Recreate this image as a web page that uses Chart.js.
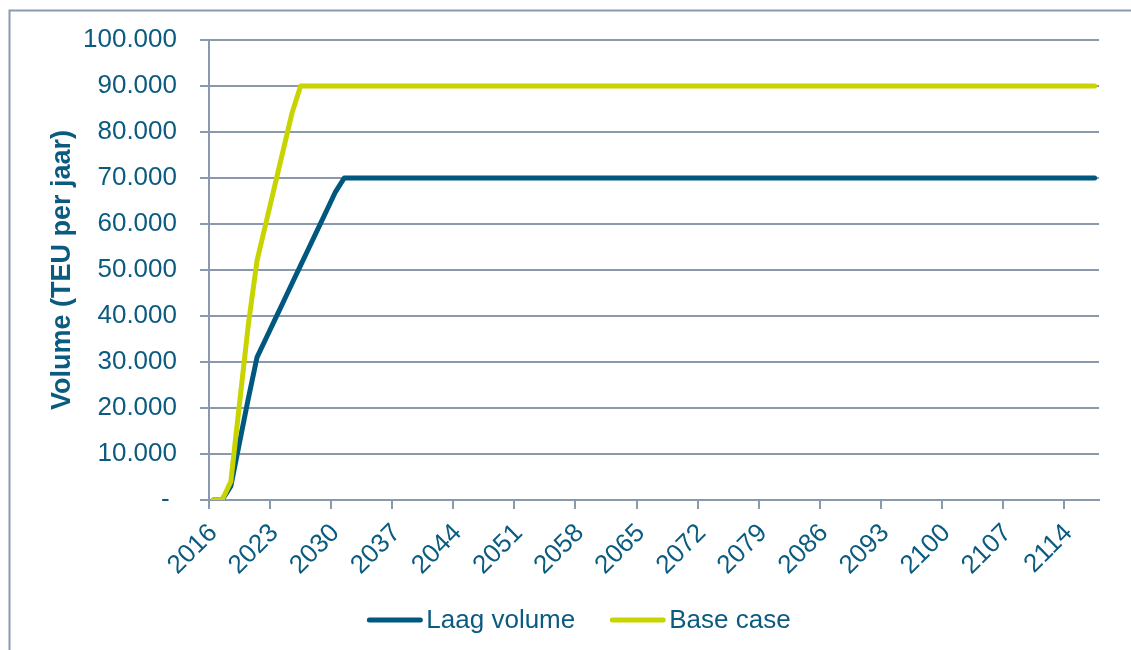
<!DOCTYPE html>
<html>
<head>
<meta charset="utf-8">
<title>Volume (TEU per jaar)</title>
<script src="https://cdn.jsdelivr.net/npm/chart.js@4/dist/chart.umd.min.js"></script>
<style>
  html, body { margin: 0; padding: 0; background: #ffffff; overflow: hidden; }
  #wrap { width: 1131px; height: 650px; }
</style>
</head>
<body>
<div id="wrap"><canvas id="chart" width="1131" height="650"></canvas></div>
<script>
// Years 2016 .. 2117, one category per year
const firstYear = 2016;
const yearCount = 102;
const years = [];
for (let i = 0; i < yearCount; i++) years.push(String(firstYear + i));

// Only every seventh year is labelled on the axis
const labelEvery = 7;

// Laag volume (TEU per jaar), 2016 .. 2117
const laagVolume = [
  0, 0, 3000, 12500, 22000, 31000, 35000, 39000, 43000, 47000,
  51000, 55000, 59000, 63000, 67000, 70000, 70000, 70000, 70000, 70000,
  70000, 70000, 70000, 70000, 70000, 70000, 70000, 70000, 70000, 70000,
  70000, 70000, 70000, 70000, 70000, 70000, 70000, 70000, 70000, 70000,
  70000, 70000, 70000, 70000, 70000, 70000, 70000, 70000, 70000, 70000,
  70000, 70000, 70000, 70000, 70000, 70000, 70000, 70000, 70000, 70000,
  70000, 70000, 70000, 70000, 70000, 70000, 70000, 70000, 70000, 70000,
  70000, 70000, 70000, 70000, 70000, 70000, 70000, 70000, 70000, 70000,
  70000, 70000, 70000, 70000, 70000, 70000, 70000, 70000, 70000, 70000,
  70000, 70000, 70000, 70000, 70000, 70000, 70000, 70000, 70000, 70000,
  70000, 70000
];

// Base case (TEU per jaar), 2016 .. 2117
const baseCase = [
  0, 0, 4000, 21000, 38000, 52000, 60000, 68000, 76000, 84000,
  90000, 90000, 90000, 90000, 90000, 90000, 90000, 90000, 90000, 90000,
  90000, 90000, 90000, 90000, 90000, 90000, 90000, 90000, 90000, 90000,
  90000, 90000, 90000, 90000, 90000, 90000, 90000, 90000, 90000, 90000,
  90000, 90000, 90000, 90000, 90000, 90000, 90000, 90000, 90000, 90000,
  90000, 90000, 90000, 90000, 90000, 90000, 90000, 90000, 90000, 90000,
  90000, 90000, 90000, 90000, 90000, 90000, 90000, 90000, 90000, 90000,
  90000, 90000, 90000, 90000, 90000, 90000, 90000, 90000, 90000, 90000,
  90000, 90000, 90000, 90000, 90000, 90000, 90000, 90000, 90000, 90000,
  90000, 90000, 90000, 90000, 90000, 90000, 90000, 90000, 90000, 90000,
  90000, 90000
];

const seriesNames = ['Laag volume', 'Base case'];
const yAxisTitle = 'Volume (TEU per jaar)';
const yMin = 0;
const yMax = 100000;
const yStep = 10000;

// Styling
const FONT = '"Liberation Sans", Arial, Helvetica, sans-serif';
const TEXT_COLOR = '#0b5b80';
const GRID_COLOR = '#8b99ac';
const BLUE = '#00587f';
const LIME = '#c8d400';

// Dutch thousands separator; zero shown as a dash
function formatVolume(v) {
  if (v === 0) return '- ';
  return String(v).replace(/\B(?=(\d{3})+(?!\d))/g, '.');
}

// Outer frame around the chart (left and top edges are inside the canvas)
const framePlugin = {
  id: 'frame',
  beforeDraw(chart) {
    const ctx = chart.ctx;
    ctx.save();
    ctx.strokeStyle = GRID_COLOR;
    ctx.lineWidth = 2;
    ctx.beginPath();
    ctx.moveTo(9.5, chart.height + 10);
    ctx.lineTo(9.5, 10.5);
    ctx.lineTo(chart.width + 10, 10.5);
    ctx.stroke();
    ctx.restore();
  }
};

// Legend below the axis: a short line sample followed by the series name
const legendPlugin = {
  id: 'lineLegend',
  afterDraw(chart) {
    const ctx = chart.ctx;
    const sampleLen = 51, gap = 6, spacing = 37;
    const centerX = 580, y = 620;
    ctx.save();
    ctx.font = '26px ' + FONT;
    const items = chart.data.datasets.map(ds => ({
      text: ds.label, color: ds.borderColor, w: ctx.measureText(ds.label).width
    }));
    let total = 0;
    items.forEach((it, i) => { total += sampleLen + gap + it.w + (i ? spacing : 0); });
    let x = centerX - total / 2;
    items.forEach((it, i) => {
      if (i) x += spacing;
      ctx.strokeStyle = it.color;
      ctx.lineWidth = 5;
      ctx.lineCap = 'round';
      ctx.beginPath();
      ctx.moveTo(x, y);
      ctx.lineTo(x + sampleLen, y);
      ctx.stroke();
      x += sampleLen + gap;
      ctx.fillStyle = TEXT_COLOR;
      ctx.textAlign = 'left';
      ctx.textBaseline = 'middle';
      ctx.fillText(it.text, x, y + 1);
      x += it.w;
    });
    ctx.restore();
  }
};

new Chart(document.getElementById('chart'), {
  type: 'line',
  data: {
    labels: years,
    datasets: [
      {
        label: seriesNames[0],
        data: laagVolume,
        borderColor: BLUE,
        backgroundColor: BLUE,
        borderWidth: 5,
        borderCapStyle: 'round',
        borderJoinStyle: 'round',
        pointRadius: 0,
        tension: 0,
        order: 1
      },
      {
        label: seriesNames[1],
        data: baseCase,
        borderColor: LIME,
        backgroundColor: LIME,
        borderWidth: 5,
        borderCapStyle: 'round',
        borderJoinStyle: 'round',
        pointRadius: 0,
        tension: 0,
        order: 0
      }
    ]
  },
  options: {
    responsive: false,
    animation: false,
    devicePixelRatio: 1,
    layout: { padding: { left: 20, right: 32, top: 40, bottom: 0 } },
    plugins: {
      legend: { display: false },
      tooltip: { enabled: false }
    },
    scales: {
      x: {
        type: 'category',
        offset: true,
        grid: {
          offset: true,
          drawOnChartArea: false,
          drawTicks: true,
          tickLength: 9,
          lineWidth: 2,
          color: (c) => (c.index % labelEvery === 0 ? GRID_COLOR : 'rgba(0,0,0,0)')
        },
        border: { display: true, color: GRID_COLOR, width: 2 },
        ticks: {
          autoSkip: false,
          maxRotation: 45,
          minRotation: 45,
          padding: 9,
          color: TEXT_COLOR,
          font: { family: FONT, size: 26 },
          callback: (v, i) => (i % labelEvery === 0 ? years[i] : '')
        },
        afterFit(scale) { scale.height = 150; }
      },
      y: {
        min: yMin,
        max: yMax,
        grid: {
          color: GRID_COLOR,
          lineWidth: 2,
          drawTicks: true,
          tickLength: 9
        },
        border: { display: true, color: GRID_COLOR, width: 2 },
        ticks: {
          stepSize: yStep,
          padding: 23,
          color: TEXT_COLOR,
          font: { family: FONT, size: 26 },
          callback: (v) => formatVolume(v)
        },
        title: {
          display: true,
          text: yAxisTitle,
          color: TEXT_COLOR,
          font: { family: FONT, size: 27, weight: 'bold' },
          padding: { top: 26, bottom: 0 }
        },
        afterFit(scale) { scale.width = 189; }
      }
    }
  },
  plugins: [framePlugin, legendPlugin]
});
</script>
</body>
</html>
